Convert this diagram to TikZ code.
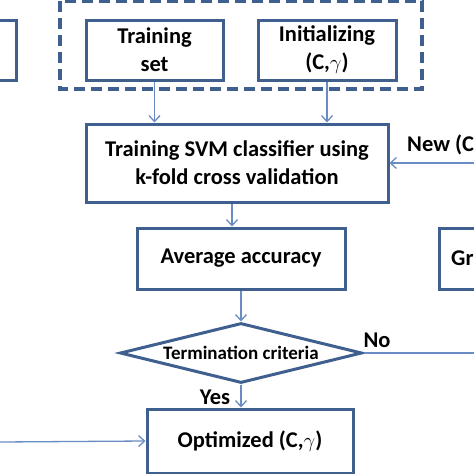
\documentclass[tikz,border=0pt]{standalone}
\usepackage{fontspec}
\setmainfont{Carlito}
\usetikzlibrary{arrows.meta,shapes.geometric}
\definecolor{boxc}{HTML}{3F5F8F}
\definecolor{arrc}{HTML}{6A8CC4}
\begin{document}
\begin{tikzpicture}[x=1pt,y=-1pt,
  box/.style={draw=boxc,line width=3pt,inner sep=0pt,align=center,
    font=\fontsize{22.5}{28}\selectfont\bfseries},
  arr/.style={draw=arrc,line width=1.3pt,-{Straight Barb[length=6pt,width=11pt]}},
  ln/.style={draw=arrc,line width=1.3pt},
  lbl/.style={inner sep=0pt,font=\fontsize{22.5}{26}\selectfont\bfseries}]
\useasboundingbox (0,0) rectangle (474,474);
\clip (0,0) rectangle (474,474);
% dashed group
\draw[boxc,line width=3.2pt,dash pattern=on 11pt off 6pt] (60,1) rectangle (422,89);
\node[box,minimum width=46pt,minimum height=60pt] (lb) at (-7,50) {};
\node[box,minimum width=137pt,minimum height=60pt] (ts) at (154.5,50) {Training\\set};
\node[box,minimum width=138pt,minimum height=60pt] (init) at (327,50) {Initializing\\(C,$\gamma$)};
\node[box,minimum width=302pt,minimum height=78pt] (svm) at (237,163) {Training SVM classifier using\\k-fold cross validation};
\node[box,minimum width=208pt,minimum height=61pt] (avg) at (241,258.5) {Average accuracy};
\node[box,minimum width=82pt,minimum height=61pt,anchor=west] (gr) at (438,258.5) {};
\node[lbl,anchor=west] (grt) at (451,258.5) {Gr};
\node[draw=boxc,line width=3pt,diamond,aspect=4,inner sep=0pt,minimum width=242pt,minimum height=60pt,
  font=\fontsize{19}{22}\selectfont\bfseries] (term) at (241,353) {Termination criteria};
\node[box,minimum width=206pt,minimum height=64pt] (opt) at (250,441) {Optimized (C,$\gamma$)};
\node[lbl,anchor=west] (new) at (407,145) {New (C};
\node[lbl] (no) at (377,340) {No};
\node[lbl] (yes) at (215,397) {Yes};
\coordinate (rin) at (474,163);
\coordinate (rout) at (474,353);
\coordinate (lin) at (0,442);
\draw[arr] (ts.south) -- (ts.south |- svm.north);
\draw[arr] (init.south) -- (init.south |- svm.north);
\draw[arr] (rin) -- (svm.east);
\draw[arr] ([xshift=-5pt]svm.south) -- ([xshift=-9pt]avg.north);
\draw[arr] (avg.south) -- (term.north);
\draw[ln] (term.east) -- (rout);
\draw[arr] (term.south) -- (term.south |- opt.north);
\draw[arr] (lin) -- (opt.west);
\end{tikzpicture}
\end{document}
